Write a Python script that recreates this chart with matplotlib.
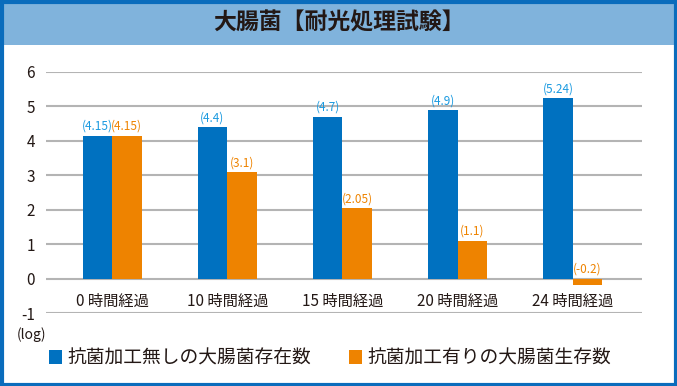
import numpy as np
import matplotlib.pyplot as plt
from matplotlib.patches import Rectangle

plt.rcParams['font.family'] = ['Noto Sans CJK JP', 'DejaVu Sans']

title = "大腸菌【耐光処理試験】"
categories = ["0 時間経過", "10 時間経過", "15 時間経過", "20 時間経過", "24 時間経過"]
no_treat = [4.15, 4.4, 4.7, 4.9, 5.24]       # 抗菌加工無し
treat = [4.15, 3.1, 2.05, 1.1, -0.2]         # 抗菌加工有り
no_treat_lbl = ["(4.15)", "(4.4)", "(4.7)", "(4.9)", "(5.24)"]
treat_lbl = ["(4.15)", "(3.1)", "(2.05)", "(1.1)", "(-0.2)"]
legend_names = ["抗菌加工無しの大腸菌存在数", "抗菌加工有りの大腸菌生存数"]

W, H = 677, 386
fig = plt.figure(figsize=(W / 100, H / 100), dpi=100)

# 枠とタイトル帯
fig.patches.append(Rectangle((0, 1 - 45 / H), 1, 45 / H, transform=fig.transFigure,
                             facecolor="#80b3dc", edgecolor="none", zorder=0))
fig.patches.append(Rectangle((1.5 / W, 1.5 / H), 1 - 3 / W, 1 - 3 / H, transform=fig.transFigure,
                             facecolor="none", edgecolor="#0a6cbc", linewidth=3, zorder=5))
fig.text(0.5, 1 - 23 / H, title, ha="center", va="center", fontsize=16.5,
         fontweight="bold", color="#231815")

ax = fig.add_axes([46 / W, 73 / H, (642 - 46) / W, (313 - 72) / H])
x = np.arange(len(categories))
w = 0.256
blue, orange = "#0071c0", "#ee8300"
b1 = ax.bar(x - w / 2, no_treat, w, color=blue, zorder=3)
b2 = ax.bar(x + w / 2, treat, w, color=orange, zorder=3)

for i in range(len(x)):
    ax.annotate(no_treat_lbl[i], (x[i] - w / 2, max(no_treat[i], 0)), xytext=(0, 2),
                textcoords="offset points", ha="center", va="bottom", fontsize=8.5, color="#1a9ae0")
    ax.annotate(treat_lbl[i], (x[i] + w / 2, max(treat[i], 0)), xytext=(0, 2),
                textcoords="offset points", ha="center", va="bottom", fontsize=8.5, color=orange)
    ax.text(x[i], -0.65, categories[i], ha="center", va="center", fontsize=11, color="#231815")

ax.set_xlim(-0.573, 4.6)
ax.set_ylim(-1, 6)
ax.set_yticks(range(-1, 7))
ax.set_yticklabels([str(v) for v in range(-1, 7)], fontsize=11, color="#231815")
ax.tick_params(axis="y", length=0, pad=8)
ax.set_xticks([])
ax.grid(axis="y", color="#b4b4b4", linewidth=1.5, zorder=0)
for s in ax.spines.values():
    s.set_visible(False)
fig.text(32 / W, 1 - 335 / H, "(log)", ha="center", va="center", fontsize=10, color="#231815")

fig.legend([b1, b2], legend_names, loc="center", bbox_to_anchor=(330 / W, 1 - 358 / H),
           ncol=2, frameon=False, fontsize=13.5, handlelength=0.7, handleheight=0.7,
           handletextpad=0.3, columnspacing=2.0, labelcolor="#231815")

fig.savefig("out.png", dpi=100)
